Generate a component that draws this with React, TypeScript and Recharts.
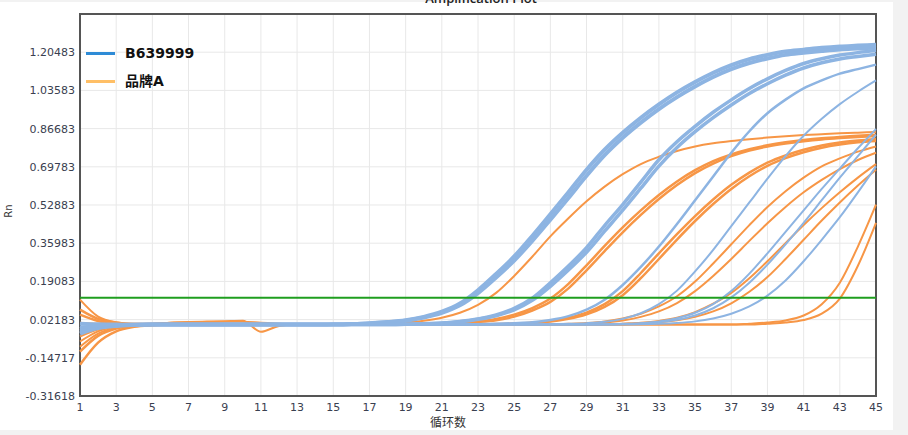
import React from "react";
import {
  LineChart,
  Line,
  XAxis,
  YAxis,
  CartesianGrid,
  ReferenceLine,
  ReferenceArea,
} from "recharts";

const cycles = [
  1, 2, 3, 4, 5, 6, 7, 8, 9, 10, 11, 12, 13, 14, 15, 16, 17, 18, 19, 20, 21, 22,
  23, 24, 25, 26, 27, 28, 29, 30, 31, 32, 33, 34, 35, 36, 37, 38, 39, 40, 41, 42,
  43, 44, 45,
];
const xTicks = [1, 3, 5, 7, 9, 11, 13, 15, 17, 19, 21, 23, 25, 27, 29, 31, 33, 35, 37, 39, 41, 43, 45];
const yTicks = [
  -0.31618, -0.14717, 0.02183, 0.19083, 0.35983, 0.52883, 0.69783, 0.86683, 1.03583, 1.20483,
  1.37383,
];
const threshold = 0.118;

// B639999 wells
const b1a = [
  -0.04, -0.016, -0.006, -0.002, 0, 0, 0, 0, 0, 0,
  0, 0, 0, 0, 0.001, 0.002, 0.006, 0.011, 0.019, 0.034,
  0.057, 0.093, 0.152, 0.224, 0.301, 0.392, 0.488, 0.585, 0.685, 0.774,
  0.849, 0.915, 0.974, 1.027, 1.073, 1.114, 1.148, 1.174, 1.193, 1.208,
  1.216, 1.224, 1.23, 1.234, 1.238,
];
const b1b = [
  -0.02, -0.008, -0.003, -0.001, 0, 0, 0, 0, 0, 0,
  0, 0, 0, 0, 0, 0.002, 0.005, 0.01, 0.017, 0.031,
  0.052, 0.085, 0.139, 0.208, 0.283, 0.37, 0.464, 0.56, 0.658, 0.749,
  0.826, 0.893, 0.953, 1.006, 1.053, 1.095, 1.13, 1.157, 1.177, 1.193,
  1.202, 1.21, 1.217, 1.221, 1.225,
];
const b2a = [
  -0.03, -0.012, -0.004, -0.001, 0, 0, 0, 0, 0, 0,
  0, 0, 0, 0, 0, 0, 0, 0, 0.001, 0.004,
  0.007, 0.014, 0.025, 0.043, 0.072, 0.117, 0.185, 0.259, 0.34, 0.438,
  0.531, 0.63, 0.729, 0.809, 0.877, 0.939, 0.994, 1.044, 1.087, 1.124,
  1.155, 1.176, 1.192, 1.203, 1.212,
];
const b2b = [
  0.005, 0.002, 0.001, 0, 0, 0, 0, 0, 0, 0,
  0, 0, 0, 0, 0, 0, 0, 0, 0.001, 0.003,
  0.006, 0.012, 0.023, 0.039, 0.065, 0.107, 0.169, 0.241, 0.32, 0.413,
  0.506, 0.603, 0.701, 0.783, 0.853, 0.915, 0.971, 1.022, 1.065, 1.103,
  1.135, 1.158, 1.175, 1.186, 1.196,
];
const b3 = [
  -0.01, -0.004, -0.001, 0, 0, 0, 0, 0, 0, 0,
  0, 0, 0, 0, 0, 0, 0, 0, 0, 0,
  0, 0, 0.001, 0.003, 0.006, 0.01, 0.02, 0.037, 0.066, 0.11,
  0.175, 0.255, 0.345, 0.445, 0.55, 0.655, 0.76, 0.855, 0.935, 0.995,
  1.045, 1.08, 1.11, 1.13, 1.15,
];
const b4 = [
  -0.035, -0.014, -0.005, -0.001, 0, 0, 0, 0, 0, 0,
  0, 0, 0, 0, 0, 0, 0, 0, 0, 0,
  0, 0, 0, 0, 0, 0, 0.001, 0.003, 0.006, 0.012,
  0.025, 0.05, 0.09, 0.15, 0.235, 0.33, 0.435, 0.54, 0.645, 0.745,
  0.835, 0.91, 0.975, 1.03, 1.08,
];
const b5 = [
  -0.025, -0.01, -0.003, -0.001, 0, 0, 0, 0, 0, 0,
  0, 0, 0, 0, 0, 0, 0, 0, 0, 0,
  0, 0, 0, 0, 0, 0, 0, 0, 0, 0.001,
  0.003, 0.006, 0.013, 0.028, 0.052, 0.09, 0.148, 0.225, 0.315, 0.41,
  0.505, 0.6, 0.69, 0.78, 0.865,
];
const b6 = [
  -0.015, -0.006, -0.002, 0, 0, 0, 0, 0, 0, 0,
  0, 0, 0, 0, 0, 0, 0, 0, 0, 0,
  0, 0, 0, 0, 0, 0, 0, 0, 0, 0,
  0.002, 0.005, 0.01, 0.021, 0.04, 0.072, 0.12, 0.185, 0.265, 0.355,
  0.45, 0.55, 0.65, 0.745, 0.84,
];
const b7 = [
  0, -0.002, 0, 0, 0, 0, 0, 0, 0, 0,
  0, 0, 0, 0, 0, 0, 0, 0, 0, 0,
  0, 0, 0, 0, 0, 0, 0, 0, 0, 0,
  0, 0.001, 0.003, 0.007, 0.014, 0.027, 0.048, 0.08, 0.128, 0.195,
  0.28, 0.375, 0.475, 0.585, 0.7,
];

// 品牌A wells
const o1 = [
  0.11, 0.035, 0.01, 0.003, 0.004, 0.008, 0.01, 0.011, 0.012, 0.012,
  0.008, 0.004, 0.001, 0, 0, 0, 0.002, 0.004, 0.009, 0.017,
  0.03, 0.052, 0.087, 0.14, 0.215, 0.3, 0.39, 0.47, 0.545, 0.61,
  0.665, 0.71, 0.742, 0.768, 0.788, 0.802, 0.812, 0.82, 0.827, 0.833,
  0.838, 0.842, 0.846, 0.849, 0.852,
];
const o2a = [
  -0.178, -0.08, -0.03, -0.01, -0.003, 0, 0, 0, 0, 0,
  0, 0, 0, 0, 0, 0, 0, 0, 0.001, 0.002,
  0.004, 0.008, 0.014, 0.025, 0.044, 0.073, 0.115, 0.18, 0.262, 0.348,
  0.43, 0.505, 0.573, 0.633, 0.683, 0.723, 0.753, 0.776, 0.793, 0.806,
  0.816, 0.824, 0.83, 0.835, 0.84,
];
const o2b = [
  0.066, 0.025, 0.008, 0.002, 0, 0, 0, 0, 0, 0,
  0, 0, 0, 0, 0, 0, 0, 0, 0, 0.001,
  0.003, 0.006, 0.011, 0.019, 0.035, 0.062, 0.1, 0.16, 0.24, 0.325,
  0.408, 0.485, 0.555, 0.617, 0.67, 0.712, 0.745, 0.77, 0.788, 0.801,
  0.811, 0.819, 0.825, 0.83, 0.834,
];
const o3a = [
  -0.12, -0.05, -0.018, -0.006, -0.002, 0, 0, 0, 0, 0,
  0, 0, 0, 0, 0, 0, 0, 0, 0, 0,
  0, 0, 0, 0.002, 0.004, 0.008, 0.016, 0.03, 0.053, 0.09,
  0.148, 0.228, 0.315, 0.4, 0.48, 0.553, 0.618, 0.672, 0.716, 0.748,
  0.773, 0.792, 0.805, 0.814, 0.821,
];
const o3b = [
  0.044, 0.016, 0.005, 0.001, 0, 0, 0, 0, 0, 0,
  0, 0, 0, 0, 0, 0, 0, 0, 0, 0,
  0, 0, 0, 0, 0.003, 0.007, 0.013, 0.025, 0.045, 0.078,
  0.13, 0.205, 0.29, 0.376, 0.458, 0.533, 0.6, 0.656, 0.702, 0.736,
  0.762, 0.782, 0.796, 0.806, 0.812,
];
const o4a = [
  -0.098, -0.04, -0.014, -0.004, 0, 0, 0, 0, 0, 0,
  0, 0, 0, 0, 0, 0, 0, 0, 0, 0,
  0, 0, 0, 0, 0, 0, 0, 0.003, 0.007, 0.014,
  0.027, 0.048, 0.08, 0.125, 0.19, 0.27, 0.355, 0.44, 0.52, 0.59,
  0.65, 0.7, 0.735, 0.765, 0.788,
];
const o4b = [
  0.008, 0.003, 0.001, 0.001, 0.003, 0.008, 0.011, 0.013, 0.015, 0.017,
  -0.032, -0.006, 0, 0, 0, 0, 0, 0, 0, 0,
  0, 0, 0, 0, 0, 0, 0, 0, 0.004, 0.009,
  0.018, 0.034, 0.058, 0.095, 0.148, 0.215, 0.29, 0.37, 0.448, 0.52,
  0.585, 0.64, 0.688, 0.728, 0.76,
];
const o5 = [
  -0.075, -0.03, -0.01, -0.003, 0, 0, 0, 0, 0, 0,
  0, 0, 0, 0, 0, 0, 0, 0, 0, 0,
  0, 0, 0, 0, 0, 0, 0, 0, 0, 0,
  0.004, 0.008, 0.016, 0.03, 0.055, 0.092, 0.14, 0.205, 0.28, 0.36,
  0.44, 0.515, 0.585, 0.65, 0.71,
];
const o6 = [
  -0.053, -0.022, -0.007, -0.002, 0, 0, 0, 0, 0, 0,
  0, 0, 0, 0, 0, 0, 0, 0, 0, 0,
  0, 0, 0, 0, 0, 0, 0, 0, 0, 0,
  0, 0.005, 0.01, 0.019, 0.034, 0.058, 0.094, 0.145, 0.21, 0.29,
  0.375, 0.46, 0.54, 0.615, 0.685,
];
const o7 = [
  -0.022, -0.009, -0.003, -0.001, 0, 0, 0, 0, 0, 0,
  0, 0, 0, 0, 0, 0, 0, 0, 0, 0,
  0, 0, 0, 0, 0, 0, 0, 0, 0, 0,
  0, 0, 0, 0, 0, 0, 0, 0.004, 0.009, 0.018,
  0.04, 0.09, 0.185, 0.345, 0.53,
];
const o8 = [
  -0.035, -0.014, -0.005, -0.001, 0, 0, 0, 0, 0, 0,
  0, 0, 0, 0, 0, 0, 0, 0, 0, 0,
  0, 0, 0, 0, 0, 0, 0, 0, 0, 0,
  0, 0, 0, 0, 0, 0, 0, 0, 0.004, 0.009,
  0.02, 0.048, 0.115, 0.26, 0.45,
];

const BLUE = "#8db4e2";
const ORANGE = "#f79646";
const FONT = "'DejaVu Sans', 'Noto Sans CJK SC', sans-serif";

const blueSeries = [
  { key: "b1a", values: b1a, w: 4 },
  { key: "b1b", values: b1b, w: 4 },
  { key: "b2a", values: b2a, w: 3.5 },
  { key: "b2b", values: b2b, w: 3.5 },
  { key: "b3", values: b3, w: 2.5 },
  { key: "b4", values: b4, w: 2 },
  { key: "b5", values: b5, w: 2 },
  { key: "b6", values: b6, w: 2 },
  { key: "b7", values: b7, w: 2 },
];
const orangeSeries = [
  { key: "o1", values: o1, w: 2 },
  { key: "o2a", values: o2a, w: 2.5 },
  { key: "o2b", values: o2b, w: 2.5 },
  { key: "o3a", values: o3a, w: 2.5 },
  { key: "o3b", values: o3b, w: 2.5 },
  { key: "o4a", values: o4a, w: 2 },
  { key: "o4b", values: o4b, w: 2 },
  { key: "o5", values: o5, w: 2 },
  { key: "o6", values: o6, w: 2 },
  { key: "o7", values: o7, w: 2 },
  { key: "o8", values: o8, w: 2 },
];

const data = cycles.map((c, i) => {
  const row: Record<string, number> = { cycle: c };
  [...orangeSeries, ...blueSeries].forEach((s) => {
    row[s.key] = s.values[i];
  });
  return row;
});

const yMin = yTicks[0];
const yMax = yTicks[yTicks.length - 1];

export default function App() {
  return (
    <div
      style={{
        position: "absolute",
        left: 0,
        top: 0,
        width: 908,
        height: 435,
        background: "#f2f2f2",
        overflow: "hidden",
        fontFamily: FONT,
      }}
    >
      <div style={{ position: "absolute", left: 0, top: 2, width: 893, height: 428, background: "#fff" }} />

      <div style={{ position: "absolute", left: 0, top: 0 }}>
        <LineChart
          width={908}
          height={435}
          data={data}
          margin={{ top: 14, right: 32, bottom: 0, left: 0 }}
        >
          <CartesianGrid stroke="#e8e8e8" strokeWidth={1} />
          <XAxis
            dataKey="cycle"
            type="number"
            domain={[1, 45]}
            ticks={xTicks}
            interval={0}
            height={39}
            tickLine={false}
            axisLine={false}
            tickSize={0}
            tickMargin={7}
            tick={{ fontSize: 11, fill: "#3a4050", fontFamily: FONT }}
          />
          <YAxis
            type="number"
            domain={[yMin, yMax]}
            ticks={yTicks}
            interval={0}
            allowDataOverflow
            width={80}
            tickLine={false}
            axisLine={false}
            tickSize={0}
            tickMargin={5}
            tickFormatter={(v: number) => (v === yMax ? "" : v.toFixed(5))}
            tick={{ fontSize: 11, fill: "#3a4050", fontFamily: FONT }}
          />
          {orangeSeries.map((s) => (
            <Line
              key={s.key}
              dataKey={s.key}
              type="monotone"
              stroke={ORANGE}
              strokeWidth={s.w}
              dot={false}
              isAnimationActive={false}
            />
          ))}
          {blueSeries.map((s) => (
            <Line
              key={s.key}
              dataKey={s.key}
              type="monotone"
              stroke={BLUE}
              strokeWidth={s.w}
              dot={false}
              isAnimationActive={false}
            />
          ))}
          <ReferenceLine y={threshold} stroke="#1f9e1f" strokeWidth={2} />
          <ReferenceArea
            x1={1}
            x2={45}
            y1={yMin}
            y2={yMax}
            fill="none"
            fillOpacity={0}
            stroke="#555"
            strokeWidth={2}
          />
        </LineChart>
      </div>

      {/* title, clipped at the top like the screenshot */}
      <div
        style={{
          position: "absolute",
          left: 0,
          width: 962,
          top: -11,
          textAlign: "center",
          fontSize: 13,
          fontWeight: 600,
          color: "#222",
          fontFamily: "'Open Sans', sans-serif",
        }}
      >
        Amplification Plot
      </div>

      <div
        style={{
          position: "absolute",
          left: 9,
          top: 211,
          transform: "translate(-50%, -50%) rotate(-90deg)",
          fontSize: 10,
          lineHeight: 1,
          color: "#333",
        }}
      >
        Rn
      </div>
      <div
        style={{
          position: "absolute",
          left: 448,
          top: 422,
          transform: "translate(-50%, -50%)",
          fontSize: 12,
          lineHeight: 1,
          color: "#333",
          fontFamily: "'Noto Sans CJK SC', sans-serif",
        }}
      >
        循环数
      </div>

      {/* legend */}
      {[
        { label: "B639999", color: "#2e8bd6", y: 53 },
        { label: "品牌A", color: "#ffbf66", y: 81 },
      ].map((item) => (
        <div key={item.label}>
          <div
            style={{
              position: "absolute",
              left: 86,
              top: item.y - 1.5,
              width: 29,
              height: 3,
              background: item.color,
            }}
          />
          <div
            style={{
              position: "absolute",
              left: 125,
              top: item.y,
              transform: "translateY(-50%)",
              fontSize: 14,
              fontWeight: 700,
              lineHeight: 1,
              color: "#111",
              whiteSpace: "nowrap",
            }}
          >
            {item.label}
          </div>
        </div>
      ))}
    </div>
  );
}
